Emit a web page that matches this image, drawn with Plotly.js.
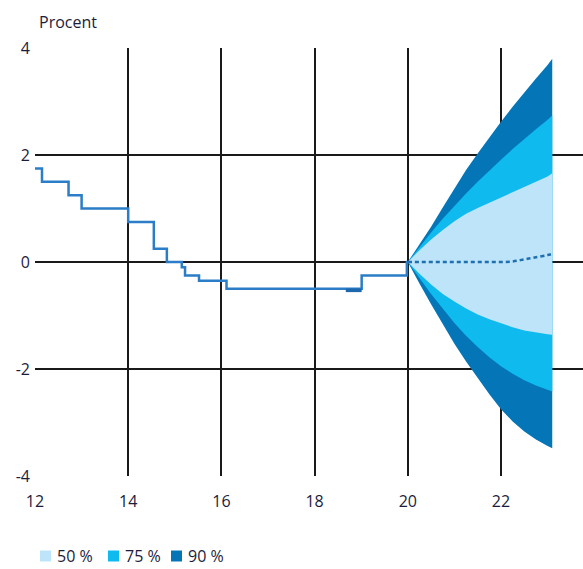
<!DOCTYPE html>
<html>
<head>
<meta charset="utf-8">
<script src="https://cdn.plot.ly/plotly-3.0.1.min.js"></script>
<style>html,body{margin:0;padding:0;background:#fff;}#chart{width:583px;height:569px;}</style>
</head>
<body>
<div id="chart"></div>
<script>
// Historical repo rate (step line)
const histX = [12, 12.15, 12.72, 13.0, 14.0, 14.55, 14.83, 15.15, 15.22, 15.52, 16.11, 19.01, 19.98, 20.0];
const histY = [1.75, 1.5, 1.25, 1.0, 0.75, 0.25, 0.0, -0.1, -0.25, -0.35, -0.5, -0.25, 0.0, 0.0];
const darkSegX = [18.67, 19.01];
const darkSegY = [-0.53, -0.53];

// Forecast fan
const fanX  = [20, 20.25, 20.5, 20.75, 21, 21.25, 21.5, 21.75, 22, 22.25, 22.5, 22.75, 23, 23.1];
const hi90  = [0, 0.32, 0.66, 1.02, 1.38, 1.72, 2.03, 2.33, 2.62, 2.90, 3.17, 3.43, 3.68, 3.80];
const hi75  = [0, 0.28, 0.55, 0.81, 1.05, 1.28, 1.50, 1.71, 1.91, 2.11, 2.30, 2.48, 2.66, 2.74];
const hi50  = [0, 0.22, 0.42, 0.60, 0.76, 0.90, 1.01, 1.11, 1.21, 1.31, 1.40, 1.50, 1.60, 1.66];
const lo50  = [0, -0.22, -0.42, -0.60, -0.74, -0.87, -0.98, -1.07, -1.15, -1.22, -1.28, -1.32, -1.35, -1.36];
const lo75  = [0, -0.30, -0.60, -0.88, -1.14, -1.38, -1.59, -1.78, -1.95, -2.09, -2.21, -2.31, -2.39, -2.42];
const lo90  = [0, -0.40, -0.79, -1.17, -1.53, -1.86, -2.17, -2.47, -2.75, -2.98, -3.17, -3.32, -3.44, -3.48];
const fcY   = [0, 0, 0, 0, 0, 0, 0, 0, 0, 0.01, 0.05, 0.09, 0.13, 0.15];

const bandNames = ['50 %', '75 %', '90 %'];
const xTicks = [12, 14, 16, 18, 20, 22];
const yTicks = [-4, -2, 0, 2, 4];

const C50 = '#bde4f8', C75 = '#0fbaee', C90 = '#0476b8';
const bandColors = [C50, C75, C90];
const textCol = '#1c1c3c';
const font = 'Open Sans, Lato, sans-serif';

function band(hi, lo, name, color) {
  return {
    x: fanX.concat(fanX.slice().reverse()),
    y: hi.concat(lo.slice().reverse()),
    type: 'scatter', mode: 'lines', fill: 'toself', fillcolor: color,
    line: {width: 0, color: color},
    name: name, showlegend: false, hoverinfo: 'skip'
  };
}

const traces = [
  band(hi90, lo90, bandNames[2], C90),
  band(hi75, lo75, bandNames[1], C75),
  band(hi50, lo50, bandNames[0], C50),
  {x: histX, y: histY, type: 'scatter', mode: 'lines', line: {shape: 'hv', color: '#2a7dc6', width: 2.5}, showlegend: false},
  {x: darkSegX, y: darkSegY, type: 'scatter', mode: 'lines', line: {color: '#1d68ad', width: 3.5}, showlegend: false},
  {x: fanX, y: fcY, type: 'scatter', mode: 'lines', line: {color: '#1f6fb3', width: 2.5, dash: '4px,3px', shape: 'spline'}, showlegend: false}
];

// Legend built from squares + text (pixel-based positions in paper coords)
const legX = [40, 108, 171];      // left edge of each square, px
const legY = 556;                 // centre line, px
const plotL = 35, plotW = 548, plotT = 48, plotH = 428;
const px2x = p => (p - plotL) / plotW;
const py2y = p => (plotT + plotH - p) / plotH;
const shapes = [], annotations = [];
bandNames.forEach((n, i) => {
  shapes.push({type: 'rect', xref: 'paper', yref: 'paper',
    x0: px2x(legX[i]), x1: px2x(legX[i] + 11), y0: py2y(legY + 5.5), y1: py2y(legY - 5.5),
    fillcolor: bandColors[i], line: {width: 0}});
  annotations.push({text: n, xref: 'paper', yref: 'paper', x: px2x(legX[i] + 15), y: py2y(legY),
    xanchor: 'left', yanchor: 'middle', showarrow: false,
    font: {family: font, size: 16, color: textCol}});
});
annotations.push({text: 'Procent', xref: 'paper', yref: 'paper', x: 0.003, y: 1.06,
  xanchor: 'left', yanchor: 'middle', showarrow: false,
  font: {family: font, size: 16, color: textCol}});

const layout = {
  width: 583, height: 569,
  margin: {l: 35, r: 0, t: 48, b: 93, autoexpand: false},
  paper_bgcolor: '#fff', plot_bgcolor: '#fff',
  font: {family: font, size: 16, color: textCol},
  showlegend: false,
  xaxis: {range: [12, 23.76], tickvals: xTicks, ticktext: xTicks.map(String),
          showgrid: true, gridcolor: '#1a1a1a', gridwidth: 2, zeroline: false,
          showline: false, ticks: '', ticklabelstandoff: 14, fixedrange: true},
  yaxis: {range: [-4, 4], tickvals: yTicks, ticktext: yTicks.map(String),
          showgrid: true, gridcolor: '#1a1a1a', gridwidth: 2, zeroline: false,
          showline: false, ticks: '', ticklabelstandoff: 4, fixedrange: true},
  shapes: shapes,
  annotations: annotations
};

Plotly.newPlot('chart', traces, layout, {displayModeBar: false, staticPlot: true});
</script>
</body>
</html>
